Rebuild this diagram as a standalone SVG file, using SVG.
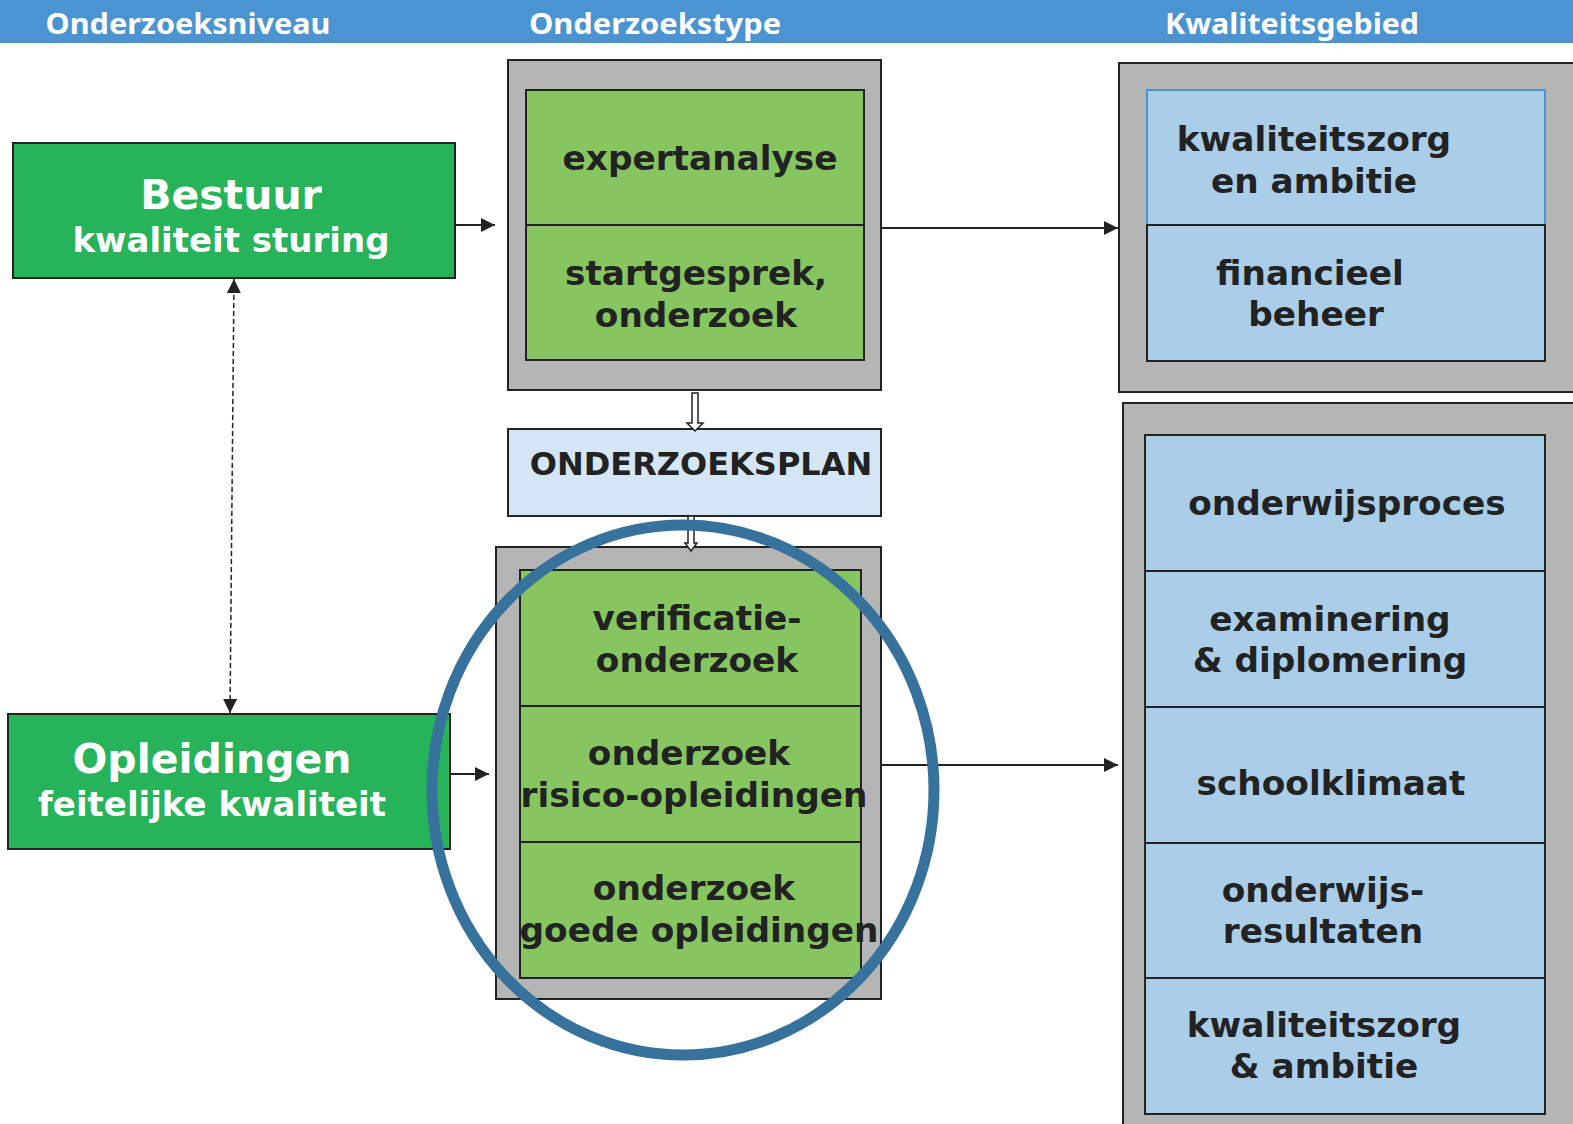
<svg xmlns="http://www.w3.org/2000/svg" width="1573" height="1124" viewBox="0 0 1573 1124">
<defs>
<style>
.hdr{font-family:"Noto Sans","Liberation Sans",sans-serif;font-weight:bold;font-size:29px;fill:#fff;text-anchor:middle}
.lvl{fill:#27B35A;stroke:#222;stroke-width:2}
.gray{fill:#B5B5B5;stroke:#222;stroke-width:2}
.cellg{fill:#86C55F;stroke:#222;stroke-width:2}
.cellb{fill:#AACDE8;stroke:#222;stroke-width:2}
.t{font-family:"DejaVu Sans","Verdana",sans-serif;font-weight:bold;font-size:34.3px;fill:#222;text-anchor:middle}
.tw{font-family:"DejaVu Sans","Verdana",sans-serif;font-weight:bold;fill:#fff;text-anchor:middle}
.con{stroke:#222;stroke-width:2;fill:none}
.hollow{fill:#fff;stroke:#222;stroke-width:1.5}
</style>
<marker id="ah2" viewBox="0 0 10 10" refX="10" refY="5" markerWidth="14" markerHeight="14" markerUnits="userSpaceOnUse" orient="auto-start-reverse">
<path d="M0,0 L10,5 L0,10 Z" fill="#222"/>
</marker>
</defs>

<g id="header">
<rect x="0" y="0" width="1573" height="43" fill="#4A95D1"/>
<text class="hdr" x="188" y="34" textLength="285" lengthAdjust="spacingAndGlyphs">Onderzoeksniveau</text>
<text class="hdr" x="655" y="34" textLength="252" lengthAdjust="spacingAndGlyphs">Onderzoekstype</text>
<text class="hdr" x="1292" y="34" textLength="254" lengthAdjust="spacingAndGlyphs">Kwaliteitsgebied</text>
</g>

<g id="bestuur">
<rect class="lvl" x="13" y="143" width="442" height="135"/>
<text class="tw" x="231" y="209" font-size="41">Bestuur</text>
<text class="tw" x="231" y="252" font-size="34">kwaliteit sturing</text>
</g>

<g id="opleidingen">
<rect class="lvl" x="8" y="714" width="442" height="135"/>
<text class="tw" x="212" y="773" font-size="41">Opleidingen</text>
<text class="tw" x="212" y="816" font-size="34">feitelijke kwaliteit</text>
</g>

<g id="type-top">
<rect class="gray" x="508" y="60" width="373" height="330"/>
<rect class="cellg" x="526" y="90" width="338" height="135"/>
<rect class="cellg" x="526" y="225" width="338" height="135"/>
<text class="t" x="700" y="170">expertanalyse</text>
<text class="t" x="696" y="285">startgesprek,</text>
<text class="t" x="696" y="327">onderzoek</text>
</g>

<g id="plan">
<rect x="508" y="429" width="373" height="87" fill="#D4E6F4" stroke="#222" stroke-width="2"/>
<text class="t" x="701" y="475" style="font-size:32px">ONDERZOEKSPLAN</text>
</g>

<g id="type-bottom">
<rect class="gray" x="496" y="547" width="385" height="452"/>
<rect class="cellg" x="520" y="570" width="341" height="136"/>
<rect class="cellg" x="520" y="706" width="341" height="136"/>
<rect class="cellg" x="520" y="842" width="341" height="136"/>
<text class="t" x="697" y="630">verificatie-</text>
<text class="t" x="697" y="672">onderzoek</text>
<text class="t" x="689" y="765">onderzoek</text>
<text class="t" x="694" y="807">risico-opleidingen</text>
<text class="t" x="694" y="900">onderzoek</text>
<text class="t" x="699" y="942">goede opleidingen</text>
</g>

<g id="gebied-top">
<rect class="gray" x="1119" y="63" width="460" height="329"/>
<rect class="cellb" x="1147" y="90" width="398" height="135" style="stroke:#4A95D1"/>
<rect class="cellb" x="1147" y="225" width="398" height="136"/>
<text class="t" x="1314" y="151">kwaliteitszorg</text>
<text class="t" x="1314" y="193">en ambitie</text>
<text class="t" x="1310" y="285">financieel</text>
<text class="t" x="1316" y="326">beheer</text>
</g>

<g id="gebied-bottom">
<rect class="gray" x="1123" y="403" width="456" height="730"/>
<rect class="cellb" x="1145" y="435" width="400" height="136"/>
<rect class="cellb" x="1145" y="571" width="400" height="136"/>
<rect class="cellb" x="1145" y="707" width="400" height="136"/>
<rect class="cellb" x="1145" y="843" width="400" height="135"/>
<rect class="cellb" x="1145" y="978" width="400" height="136"/>
<text class="t" x="1347" y="515">onderwijsproces</text>
<text class="t" x="1330" y="631">examinering</text>
<text class="t" x="1330" y="672">&amp; diplomering</text>
<text class="t" x="1331" y="795">schoolklimaat</text>
<text class="t" x="1323" y="902">onderwijs-</text>
<text class="t" x="1323" y="943">resultaten</text>
<text class="t" x="1324" y="1037">kwaliteitszorg</text>
<text class="t" x="1324" y="1078">&amp; ambitie</text>
</g>

<g id="connectors">
<line class="con" x1="455" y1="225" x2="495" y2="225" marker-end="url(#ah2)"/>
<line class="con" x1="450" y1="774" x2="489" y2="774" marker-end="url(#ah2)"/>
<line class="con" x1="881" y1="228" x2="1118" y2="228" marker-end="url(#ah2)"/>
<line class="con" x1="881" y1="765" x2="1118" y2="765" marker-end="url(#ah2)"/>
<line x1="234" y1="279" x2="230" y2="713" stroke="#222" stroke-width="1.5" stroke-dasharray="5,3" marker-start="url(#ah2)" marker-end="url(#ah2)"/>
<path class="hollow" d="M692,393 L698,393 L698,423 L703,423 L695,431 L687,423 L692,423 Z"/>
<path class="hollow" d="M688,516 L694,516 L694,543 L697,543 L691,551 L685,543 L688,543 Z"/>
</g>

<g id="highlight">
<ellipse cx="683" cy="790" rx="251" ry="265" fill="none" stroke="#36729C" stroke-width="11"/>
</g>
</svg>
